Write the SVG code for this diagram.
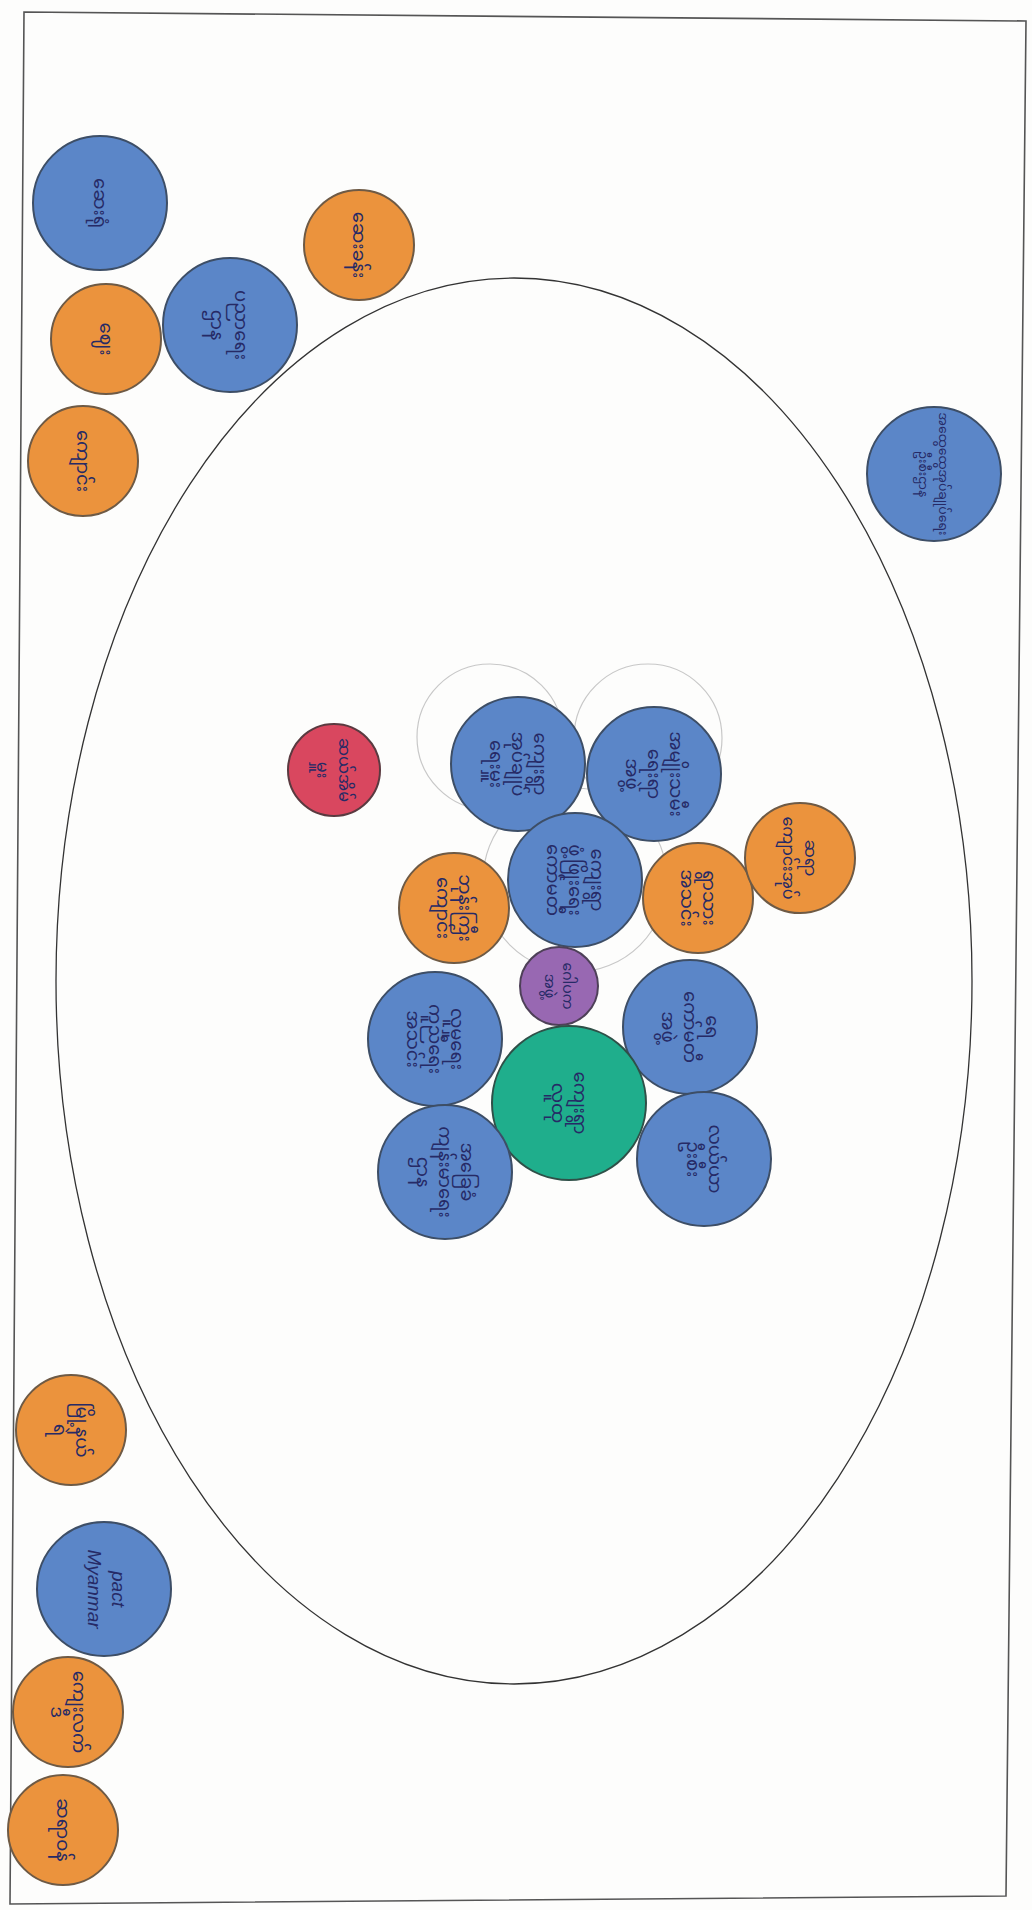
<svg xmlns="http://www.w3.org/2000/svg" width="1032" height="1910" viewBox="0 0 1032 1910">
<style>
.bg{fill:#fdfdfc}
.frame{fill:none;stroke:#555;stroke-width:1.6}
.ell{fill:none;stroke:#333;stroke-width:1.3}
.faint{fill:none;stroke:#c8c8c8;stroke-width:1.2}
.b{fill:#5b86c8;stroke:#3d4e66;stroke-width:2}
.o{fill:#eb933d;stroke:#6e5a45;stroke-width:2}
.r{fill:#d9475f;stroke:#5a3a40;stroke-width:2}
.p{fill:#9868b2;stroke:#4e4058;stroke-width:2}
.g{fill:#1fae8c;stroke:#2f5048;stroke-width:2}
text{font-family:"Noto Sans Myanmar","Padauk","Myanmar Text","Noto Sans",sans-serif;font-size:18px;fill:#262a66;text-anchor:middle}
.lat{font-family:"Liberation Sans",sans-serif;font-size:19px;font-style:italic}
</style>
<rect class="bg" x="0" y="0" width="1032" height="1910"/>
<polygon class="frame" points="24,12 1026,21 1006,1896 10,1904"/>
<ellipse class="ell" cx="514" cy="981" rx="458" ry="703"/>
<g id="faint-rings">
<circle class="faint" cx="490" cy="737" r="73"/>
<circle class="faint" cx="648" cy="738" r="74"/>
<circle class="faint" cx="575" cy="880" r="92"/>
</g>
<g id="connectors"></g>
<g id="n1"><circle class="b" cx="100" cy="203" r="67"/><text transform="rotate(90 100 203)"><tspan x="100" y="209">ဆေးရုံ</tspan></text></g>
<g id="n2"><circle class="o" cx="106" cy="339" r="55"/><text transform="rotate(90 106 339)"><tspan x="106" y="345">ဈေး</tspan></text></g>
<g id="n3"><circle class="b" cx="230" cy="325" r="67"/><text transform="rotate(90 230 325)"><tspan x="230" y="320">ပညာရေး</tspan><tspan x="230" y="344">ဌာန</tspan></text></g>
<g id="n4"><circle class="o" cx="359" cy="245" r="55"/><text transform="rotate(90 359 245)"><tspan x="359" y="251">ဆေးခန်း</tspan></text></g>
<g id="n5"><circle class="o" cx="83" cy="461" r="55"/><text transform="rotate(90 83 461)"><tspan x="83" y="467">ကျောင်း</tspan></text></g>
<g id="n6"><circle class="b" cx="934" cy="474" r="67"/><text transform="rotate(90 934 474)" style="font-size:12.5px"><tspan x="934" y="469">အထွေထွေအုပ်ချုပ်ရေး</tspan><tspan x="934" y="489">ဦးစီးဌာန</tspan></text></g>
<g id="n7"><circle class="r" cx="334" cy="770" r="46"/><text transform="rotate(90 334 770)" style="font-size:16px"><tspan x="334" y="765">ဆယ်အိမ်</tspan><tspan x="334" y="787">မှူး</tspan></text></g>
<g id="n8"><circle class="b" cx="518" cy="764" r="67"/><text transform="rotate(90 518 764)"><tspan x="518" y="748">ကျေးရွာ</tspan><tspan x="518" y="770">အုပ်ချုပ်</tspan><tspan x="518" y="792">ရေးမှူး</tspan></text></g>
<g id="n9"><circle class="b" cx="654" cy="774" r="67"/><text transform="rotate(90 654 774)"><tspan x="654" y="758">အမျိုးသမီး</tspan><tspan x="654" y="780">ရေးရာ</tspan><tspan x="654" y="802">အဖွဲ့</tspan></text></g>
<g id="n10"><circle class="b" cx="575" cy="880" r="67"/><text transform="rotate(90 575 880)"><tspan x="575" y="864">ကျေးရွာ</tspan><tspan x="575" y="886">ဖွံ့ဖြိုးရေး</tspan><tspan x="575" y="908">ကော်မတီ</tspan></text></g>
<g id="n11"><circle class="o" cx="454" cy="908" r="55"/><text transform="rotate(90 454 908)"><tspan x="454" y="903">ဘုန်းကြီး</tspan><tspan x="454" y="925">ကျောင်း</tspan></text></g>
<g id="n12"><circle class="o" cx="698" cy="898" r="55"/><text transform="rotate(90 698 898)"><tspan x="698" y="893">ရွာသား</tspan><tspan x="698" y="915">အသင်း</tspan></text></g>
<g id="n13"><circle class="o" cx="800" cy="858" r="55"/><text transform="rotate(90 800 858)" style="font-size:16px"><tspan x="800" y="853">ဆရာ</tspan><tspan x="800" y="875">ကျောင်းအုပ်</tspan></text></g>
<g id="n14"><circle class="p" cx="559" cy="986" r="39"/><text transform="rotate(90 559 986)" style="font-size:14px"><tspan x="559" y="982">ဂေါပက</tspan><tspan x="559" y="1000">အဖွဲ့</tspan></text></g>
<g id="n15"><circle class="b" cx="435" cy="1039" r="67"/><text transform="rotate(90 435 1039)"><tspan x="435" y="1023">လူမှုရေး</tspan><tspan x="435" y="1045">ကူညီရေး</tspan><tspan x="435" y="1067">အသင်း</tspan></text></g>
<g id="n16"><circle class="b" cx="690" cy="1027" r="67"/><text transform="rotate(90 690 1027)"><tspan x="690" y="1011">ရေ</tspan><tspan x="690" y="1033">ကော်မတီ</tspan><tspan x="690" y="1055">အဖွဲ့</tspan></text></g>
<g id="n17"><circle class="g" cx="569" cy="1103" r="77"/><text transform="rotate(90 569 1103)"><tspan x="569" y="1098">ကျေးရွာ</tspan><tspan x="569" y="1120">လူထု</tspan></text></g>
<g id="n18"><circle class="b" cx="445" cy="1172" r="67"/><text transform="rotate(90 445 1172)"><tspan x="445" y="1156">အခြေခံ</tspan><tspan x="445" y="1178">ကျန်းမာရေး</tspan><tspan x="445" y="1200">ဌာန</tspan></text></g>
<g id="n19"><circle class="b" cx="704" cy="1159" r="67"/><text transform="rotate(90 704 1159)"><tspan x="704" y="1154">လယ်ယာ</tspan><tspan x="704" y="1176">ဦးစီး</tspan></text></g>
<g id="n20"><circle class="o" cx="71" cy="1430" r="55"/><text transform="rotate(90 71 1430)"><tspan x="71" y="1425">မြို့နယ်</tspan><tspan x="71" y="1447">ရဲ</tspan></text></g>
<g id="n21"><circle class="b" cx="104" cy="1589" r="67"/><text class="lat" transform="rotate(90 104 1589)"><tspan x="104" y="1581">pact</tspan><tspan x="104" y="1605">Myanmar</tspan></text></g>
<g id="n22"><circle class="o" cx="68" cy="1712" r="55"/><text transform="rotate(90 68 1712)"><tspan x="68" y="1707">ကျေးလက်</tspan><tspan x="68" y="1729">ဒီ</tspan></text></g>
<g id="n23"><circle class="o" cx="63" cy="1830" r="55"/><text transform="rotate(90 63 1830)"><tspan x="63" y="1836">ဆရာဝန်</tspan></text></g>
</svg>
